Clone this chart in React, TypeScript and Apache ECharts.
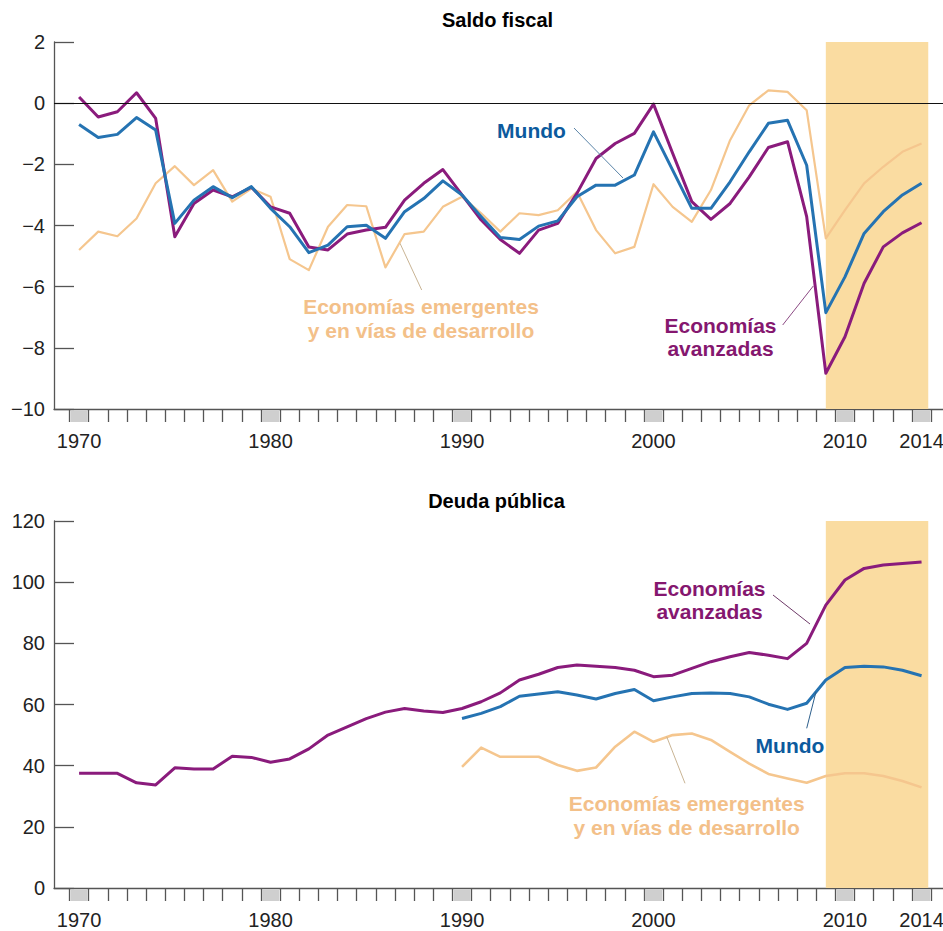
import React, { useEffect, useRef } from "react";
import * as echarts from "echarts";

const years = [
  1970, 1971, 1972, 1973, 1974, 1975, 1976, 1977, 1978, 1979,
  1980, 1981, 1982, 1983, 1984, 1985, 1986, 1987, 1988, 1989,
  1990, 1991, 1992, 1993, 1994, 1995, 1996, 1997, 1998, 1999,
  2000, 2001, 2002, 2003, 2004, 2005, 2006, 2007, 2008, 2009,
  2010, 2011, 2012, 2013, 2014,
];
const labelYears = [1970, 1980, 1990, 2000, 2010, 2014];

// Saldo fiscal (% del PIB)
const fiscalAdvanced = [
  0.2, -0.45, -0.28, 0.34, -0.5, -4.37, -3.28, -2.84, -3.06, -2.75,
  -3.39, -3.6, -4.7, -4.8, -4.28, -4.15, -4.06, -3.17, -2.62, -2.17,
  -3.0, -3.82, -4.46, -4.91, -4.15, -3.93, -2.95, -1.81, -1.32, -0.99,
  -0.03, -1.64, -3.22, -3.8, -3.28, -2.41, -1.45, -1.26, -3.71, -8.83,
  -7.64, -5.89, -4.7, -4.24, -3.91,
];
const fiscalWorld = [
  -0.7, -1.12, -1.02, -0.47, -0.88, -3.93, -3.17, -2.73, -3.09, -2.73,
  -3.44, -4.04, -4.89, -4.64, -4.04, -3.99, -4.42, -3.55, -3.12, -2.54,
  -3.0, -3.71, -4.39, -4.46, -4.02, -3.85, -3.06, -2.68, -2.68, -2.35,
  -0.94, -2.19, -3.44, -3.44, -2.57, -1.59, -0.66, -0.56, -2.03, -6.85,
  -5.68, -4.26, -3.55, -3.0, -2.62,
];
const fiscalEmerging = [
  -4.8, -4.2, -4.35, -3.77, -2.62, -2.06, -2.68, -2.19, -3.22, -2.79,
  -3.06, -5.1, -5.46, -4.04, -3.33, -3.37, -5.37, -4.28, -4.2, -3.39,
  -3.06, -3.6, -4.2, -3.6, -3.66, -3.5, -2.9, -4.15, -4.91, -4.7,
  -2.65, -3.39, -3.88, -2.84, -1.21, -0.07, 0.42, 0.37, -0.23, -4.42,
  -3.5, -2.62, -2.08, -1.59, -1.32,
];

// Deuda pública (% del PIB)
const debtAdvanced = [
  37.5, 37.5, 37.5, 34.4, 33.7, 39.3, 38.9, 38.9, 43.1, 42.7,
  41.1, 42.2, 45.5, 50.0, 52.7, 55.4, 57.5, 58.7, 57.9, 57.4,
  58.7, 60.9, 63.8, 68.0, 69.9, 72.1, 72.9, 72.5, 72.1, 71.2,
  69.1, 69.6, 71.8, 74.0, 75.6, 77.0, 76.1, 75.0, 80.0, 92.5,
  100.7, 104.5, 105.6, 106.1, 106.6,
];
const debtYearsFrom1990 = [
  1990, 1991, 1992, 1993, 1994, 1995, 1996, 1997, 1998, 1999,
  2000, 2001, 2002, 2003, 2004, 2005, 2006, 2007, 2008, 2009,
  2010, 2011, 2012, 2013, 2014,
];
const debtWorld = [
  55.4, 57.1, 59.3, 62.7, 63.4, 64.2, 63.1, 61.8, 63.6, 64.9,
  61.2, 62.5, 63.6, 63.8, 63.6, 62.5, 60.1, 58.4, 60.4, 68.0,
  72.1, 72.5, 72.3, 71.2, 69.4,
];
const debtEmerging = [
  39.6, 45.9, 42.9, 42.9, 42.9, 40.2, 38.3, 39.4, 46.2, 51.1,
  47.8, 50.0, 50.5, 48.4, 44.5, 40.7, 37.3, 35.8, 34.4, 36.6,
  37.5, 37.5, 36.6, 35.0, 32.9,
];

const shadeStart = 2009;
const shadeEnd = 2014.35;

const FONT = '"Liberation Sans", Arial, Helvetica, sans-serif';
const PURPLE = "#8a1b7c";
const BLUE = "#2573b2";
const ORANGE = "#f5c68e";
const PURPLE_TXT = "#85176f";
const BLUE_TXT = "#0c5a9d";
const ORANGE_TXT = "#f3c089";
const AXIS = "#555555";

const zip = (xs: number[], vs: number[]) => xs.map((x, i) => [x, vs[i]]);

function xAxisFor(gridIndex: number) {
  return {
    type: "value",
    gridIndex,
    min: 1968.69,
    max: 2015.12,
    axisLine: { show: true, onZero: false, lineStyle: { color: AXIS, width: 1.3 } },
    axisTick: {
      show: true,
      inside: false,
      length: 13,
      customValues: years.map((y) => y - 0.5).concat([2014.5]),
      lineStyle: { color: AXIS, width: 1.3 },
    },
    axisLabel: {
      customValues: labelYears,
      formatter: (v: number) => String(v),
      fontSize: 20,
      fontFamily: FONT,
      color: "#222",
      margin: 22,
    },
    splitLine: { show: false },
  };
}

function yAxisFor(gridIndex: number, min: number, max: number, interval: number) {
  return {
    type: "value",
    gridIndex,
    min,
    max,
    interval,
    axisLine: { show: true, lineStyle: { color: AXIS, width: 1.3 } },
    axisTick: { show: true, inside: true, length: 20, lineStyle: { color: AXIS, width: 1.3 } },
    axisLabel: {
      fontSize: 20,
      fontFamily: FONT,
      color: "#222",
      margin: 9,
      formatter: (v: number) => String(v).replace("-", "\u2212"),
    },
    splitLine: { show: false },
  };
}

function boxSeries(axisIndex: number, base: number) {
  return {
    type: "custom",
    xAxisIndex: axisIndex,
    yAxisIndex: axisIndex,
    clip: false,
    silent: true,
    z: 1,
    data: labelYears.map((y) => [y, base]),
    encode: { x: 0, y: 1 },
    renderItem: (params: any, api: any) => {
      const yr = api.value(0);
      const b = api.value(1);
      const a = api.coord([yr - 0.5, b]);
      const c = api.coord([yr + 0.5, b]);
      return {
        type: "rect",
        shape: { x: a[0] + 1, y: a[1] + 1.5, width: c[0] - a[0] - 2, height: 11.5 },
        style: { fill: "#cfcfcf" },
      };
    },
  };
}

function shadeSeries(axisIndex: number) {
  return {
    type: "line",
    xAxisIndex: axisIndex,
    yAxisIndex: axisIndex,
    data: [],
    silent: true,
    z: 0,
    markArea: {
      silent: true,
      itemStyle: { color: "#fadca1" },
      data: [[{ xAxis: shadeStart }, { xAxis: shadeEnd }]],
    },
  };
}

function lineSeries(axisIndex: number, data: number[][], color: string, width: number, z: number) {
  return {
    type: "line",
    xAxisIndex: axisIndex,
    yAxisIndex: axisIndex,
    data,
    symbol: "none",
    showSymbol: false,
    z,
    lineStyle: { color, width, join: "round" },
    itemStyle: { color },
  };
}

function label(text: string, x: number, y: number, fill: string, lineHeight = 24) {
  return {
    type: "text",
    x,
    y,
    silent: true,
    z: 100,
    style: {
      text,
      fill,
      font: `bold 21px ${FONT}`,
      align: "center",
      verticalAlign: "middle",
      lineHeight,
    },
  };
}

function leader(x1: number, y1: number, x2: number, y2: number, stroke: string) {
  return {
    type: "line",
    silent: true,
    z: 99,
    shape: { x1, y1, x2, y2 },
    style: { stroke, lineWidth: 1 },
  };
}

export default function App() {
  const ref = useRef<HTMLDivElement>(null);

  useEffect(() => {
    if (!ref.current) return;
    const chart = echarts.init(ref.current, undefined, { renderer: "svg" });
    const option: any = {
      animation: false,
      backgroundColor: "#ffffff",
      grid: [
        { left: 54, top: 42, width: 889, height: 367, outerBoundsMode: "none", containLabel: false },
        { left: 54, top: 521, width: 889, height: 367, outerBoundsMode: "none", containLabel: false },
      ],
      xAxis: [xAxisFor(0), xAxisFor(1)],
      yAxis: [yAxisFor(0, -10, 2, 2), yAxisFor(1, 0, 120, 20)],
      series: [
        shadeSeries(0),
        shadeSeries(1),
        boxSeries(0, -10),
        boxSeries(1, 0),
        {
          type: "line",
          xAxisIndex: 0,
          yAxisIndex: 0,
          data: [],
          silent: true,
          z: 2,
          markLine: {
            silent: true,
            symbol: ["none", "none"],
            label: { show: false },
            lineStyle: { color: "#111", width: 1, type: "solid" },
            data: [{ yAxis: 0 }],
          },
        },
        lineSeries(0, zip(years, fiscalEmerging), ORANGE, 2.2, 3),
        lineSeries(0, zip(years, fiscalAdvanced), PURPLE, 3, 4),
        lineSeries(0, zip(years, fiscalWorld), BLUE, 3, 5),
        lineSeries(1, zip(debtYearsFrom1990, debtEmerging), ORANGE, 2.6, 3),
        lineSeries(1, zip(years, debtAdvanced), PURPLE, 3, 4),
        lineSeries(1, zip(debtYearsFrom1990, debtWorld), BLUE, 3, 5),
      ],
      graphic: [
        {
          type: "text",
          x: 497.5,
          y: 20,
          silent: true,
          style: { text: "Saldo fiscal", fill: "#000", font: `bold 20px ${FONT}`, align: "center", verticalAlign: "middle" },
        },
        {
          type: "text",
          x: 496.5,
          y: 501,
          silent: true,
          style: { text: "Deuda pública", fill: "#000", font: `bold 20px ${FONT}`, align: "center", verticalAlign: "middle" },
        },
        // top panel annotations
        leader(574, 128, 623, 178, "#5a84a8"),
        label("Mundo", 531.5, 130, BLUE_TXT),
        leader(421.7, 290, 400, 243.3, "#c9b494"),
        label("Economías emergentes\ny en vías de desarrollo", 421, 318, ORANGE_TXT, 24),
        leader(782.7, 325, 813.3, 286, "#8c4a84"),
        label("Economías\navanzadas", 720.5, 337, PURPLE_TXT, 22.5),
        // bottom panel annotations
        leader(773, 595, 810, 624, "#6e3a68"),
        label("Economías\navanzadas", 709.5, 600, PURPLE_TXT, 23.4),
        leader(806.7, 728.3, 816, 691.7, "#2d5f8c"),
        label("Mundo", 790, 745, BLUE_TXT),
        leader(685, 783.3, 666.7, 736.7, "#c9b494"),
        label("Economías emergentes\ny en vías de desarrollo", 686.7, 815.3, ORANGE_TXT, 24),
      ],
    };
    chart.setOption(option);
    return () => {
      chart.dispose();
    };
  }, []);

  return (
    <div
      ref={ref}
      style={{ position: "absolute", left: 0, top: 0, width: 943, height: 931 }}
    />
  );
}
